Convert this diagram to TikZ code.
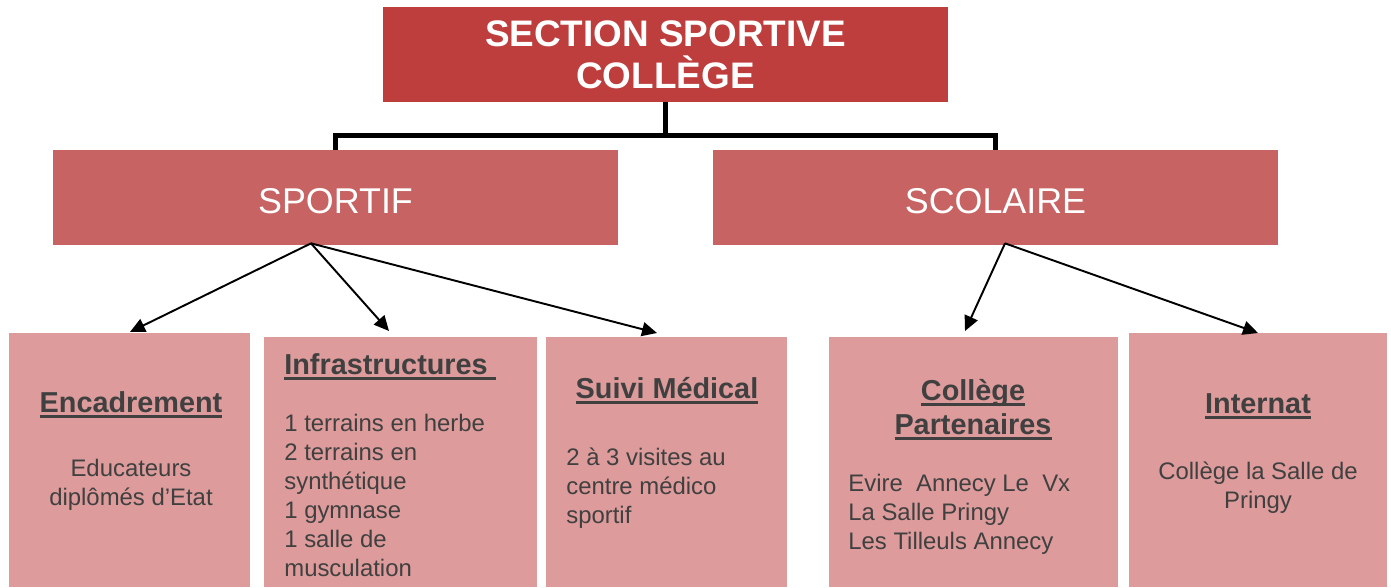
\documentclass[tikz,border=0pt]{standalone}
\usepackage{fontspec}
\setmainfont{Liberation Sans}
\usepackage{tikz}
\usetikzlibrary{arrows.meta,calc}
\definecolor{headred}{RGB}{190,62,62}
\definecolor{midred}{RGB}{200,99,99}
\definecolor{lowred}{RGB}{221,155,155}
\definecolor{txtgray}{RGB}{64,64,64}
\newcommand{\titleline}[1]{\setbox0\hbox{#1}\rlap{\rule[-3.2pt]{\wd0}{1.6pt}}\box0}
\newcommand{\bigfont}{\fontsize{20.4}{23.8}\selectfont}
\newcommand{\midfont}{\bfseries\fontsize{16.4}{19.3}\selectfont}
\newcommand{\smallfont}{\fontsize{13.6}{16.4}\selectfont}
\tikzset{
  headbox/.style={fill=headred, text=white, minimum width=11.3cm, minimum height=1.9cm, inner sep=0pt},
  branchbox/.style={fill=midred, text=white, minimum width=11.3cm, minimum height=1.9cm, inner sep=0pt, font=\bigfont, text height=0.64cm, text depth=0pt},
  leafbox/.style={fill=lowred, anchor=north, minimum height=#1, inner sep=0pt},
  leaftitle/.style={text=txtgray, font=\midfont, inner sep=0pt, align=center, anchor=base},
  leaftext/.style={text=txtgray, font=\smallfont, inner sep=0pt, anchor=base},
  bar/.style={line width=2.8pt},
  arr/.style={line width=1.1pt, -{Triangle[length=0.3cm,width=0.28cm]}}
}

\begin{document}
\begin{tikzpicture}
\useasboundingbox (0,0) rectangle (27.82,11.74);
% top
\node[headbox, font=\bfseries\fontsize{21}{23.8}\selectfont, align=center] (section) at (13.31,10.65) {SECTION SPORTIVE\\COLLÈGE};
% branches
\node[branchbox] (sportif) at (6.71,7.79) {SPORTIF};
\node[branchbox] (scolaire) at (19.91,7.79) {SCOLAIRE};
\coordinate (fork) at ($(section.south)+(0,-0.66)$);
\draw[bar] (section.south) -- (fork);
\draw[bar] (sportif.north) |- (fork) -| (scolaire.north);
% leaves
\node[leafbox=5.08cm, minimum width=4.82cm] (enc) at (2.59,5.08) {};
\node[leafbox=5cm, minimum width=5.46cm] (infra) at (8.01,5) {};
\node[leafbox=5cm, minimum width=4.82cm] (suivi) at (13.33,5) {};
\node[leafbox=5cm, minimum width=5.78cm] (coll) at (19.47,5) {};
\node[leafbox=5.08cm, minimum width=5.16cm] (intr) at (25.16,5.08) {};
% arrows
\draw[arr] ($(sportif.south)+(-0.49,0.04)$) -- ($(enc.north)+(0.01,0.02)$);
\draw[arr] ($(sportif.south)+(-0.49,0.04)$) -- ($(infra.north)+(-0.23,0.12)$);
\draw[arr] ($(sportif.south)+(-0.49,0.04)$) -- ($(suivi.north)+(-0.19,0.08)$);
\draw[arr] ($(scolaire.south)+(0.19,0.04)$) -- ($(coll.north)+(-0.17,0.12)$);
\draw[arr] ($(scolaire.south)+(0.19,0.04)$) -- (intr.north);
% texts (base = last line)
\node[leaftitle] (enctitle) at (2.62,3.5) {\titleline{Encadrement}};
\node[leaftext, align=center] (enctext) at (2.62,1.64) {Educateurs\\diplômés d’Etat};
\node[leaftitle, anchor=base west] (infratitle) at (5.68,4.26) {\titleline{Infrastructures\ }};
\node[leaftext, align=left, anchor=base west] (infratext) at (5.68,0.22) {1 terrains en herbe\\2 terrains en\\synthétique\\1 gymnase\\1 salle de\\musculation};
\node[leaftitle] (suivititle) at (13.34,3.78) {\titleline{Suivi Médical}};
\node[leaftext, align=left, anchor=base west] (suivitext) at (11.32,1.28) {2 à 3 visites au\\centre médico\\sportif};
\node[leaftitle] (colltitle) at (19.46,3.06) {\titleline{Collège}\\\titleline{Partenaires}};
\node[leaftext, align=left, anchor=base west] (colltext) at (16.96,0.76) {Evire\ \ Annecy Le\ \ Vx\\La Salle Pringy\\Les Tilleuls Annecy};
\node[leaftitle] (intrtitle) at (25.16,3.48) {\titleline{Internat}};
\node[leaftext, align=center] (intrtext) at (25.16,1.58) {Collège la Salle de\\Pringy};
\end{tikzpicture}
\end{document}
